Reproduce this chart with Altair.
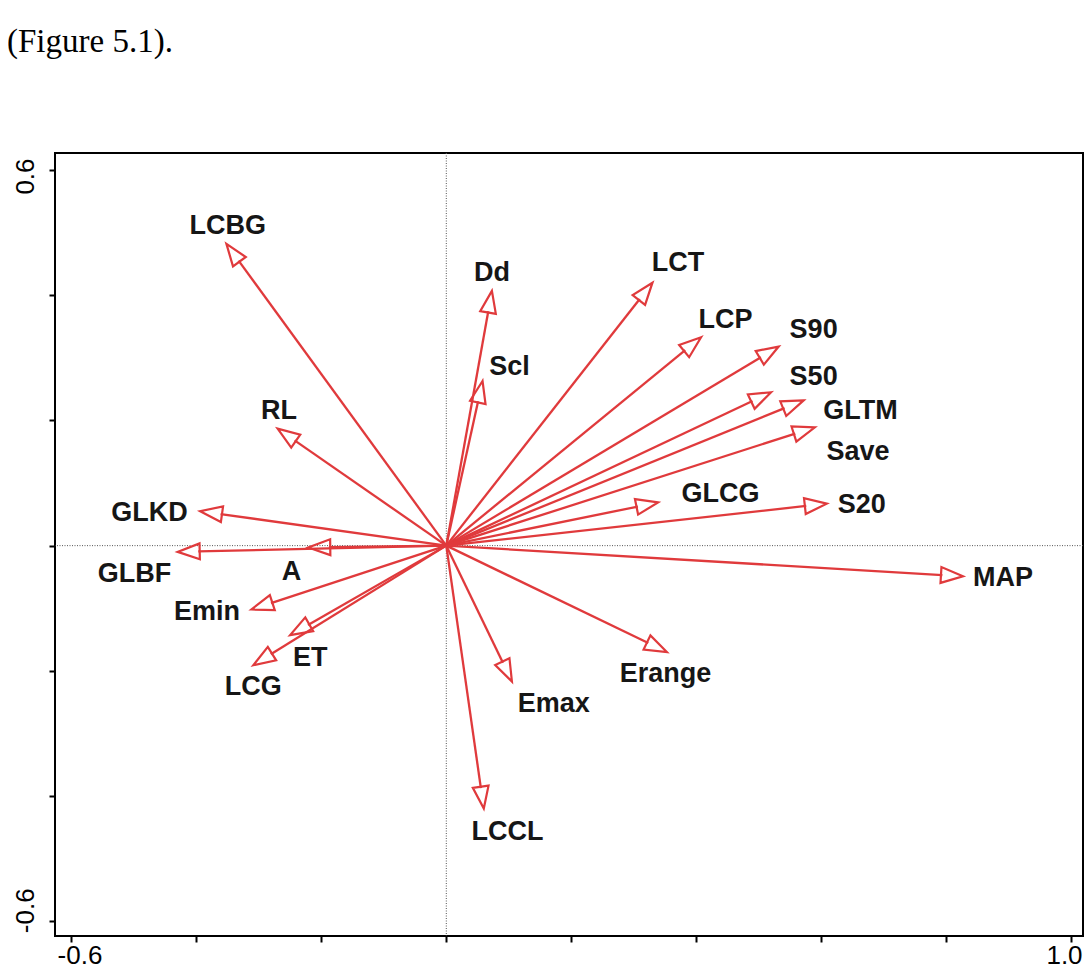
import altair as alt
import pandas as pd

# ---- data (ordination biplot: variable loadings) ----
names = ["LCBG", "RL", "GLKD", "GLBF", "A", "Dd", "Scl", "LCT", "LCP", "S90",
         "S50", "GLTM", "Save", "GLCG", "S20", "MAP", "Emin", "ET", "LCG",
         "Emax", "Erange", "LCCL"]
axis1 = [-0.352, -0.270, -0.394, -0.430, -0.221, 0.073, 0.058, 0.330, 0.408, 0.532,
         0.520, 0.572, 0.590, 0.339, 0.609, 0.827, -0.312, -0.250, -0.309,
         0.105, 0.353, 0.060]
axis2 = [0.482, 0.187, 0.055, -0.010, -0.003, 0.407, 0.263, 0.420, 0.333, 0.318,
         0.245, 0.232, 0.189, 0.069, 0.067, -0.049, -0.102, -0.143, -0.191,
         -0.217, -0.170, -0.420]
# label anchor positions (data units)
label_x = [-0.350, -0.268, -0.475, -0.499, -0.248, 0.073, 0.101, 0.371, 0.447, 0.588,
           0.588, 0.663, 0.659, 0.439, 0.665, 0.891, -0.383, -0.218, -0.309,
           0.172, 0.351, 0.098]
label_y = [0.514, 0.219, 0.055, -0.042, -0.039, 0.439, 0.289, 0.454, 0.363, 0.348,
           0.273, 0.218, 0.152, 0.085, 0.068, -0.049, -0.103, -0.176, -0.223,
           -0.249, -0.202, -0.454]

x_ticks = [-0.6, -0.4, -0.2, 0.0, 0.2, 0.4, 0.6, 0.8, 1.0]
x_tick_labels = {-0.6: "-0.6", 1.0: "1.0"}
y_ticks = [-0.6, -0.4, -0.2, 0.0, 0.2, 0.4, 0.6]
y_tick_labels = {-0.6: "-0.6", 0.6: "0.6"}
x_domain = [-0.6264, 1.0192]
y_domain = [-0.6236, 0.6272]
caption = "(Figure 5.1)."

RED = "#E03A3C"
INK = "#161616"
HEAD = 0.033  # arrow head length in data units (line stops at its base)


def label_expr(mapping):
    parts = [f"abs(datum.value - ({v})) < 1e-6 ? '{t}'" for v, t in mapping.items()]
    return " : ".join(parts) + " : ''"


df = pd.DataFrame({"name": names, "x": axis1, "y": axis2, "lx": label_x, "ly": label_y})
zero = pd.DataFrame({"v": [0.0]})

xs = alt.Scale(domain=x_domain, nice=False, zero=False)
ys = alt.Scale(domain=y_domain, nice=False, zero=False)

xaxis = alt.Axis(values=x_ticks, labelExpr=label_expr(x_tick_labels), title="",
                 grid=False, domain=False, labelFlush=False,
                 tickSize=6, tickWidth=2, tickColor="black",
                 labelFont="Liberation Sans", labelFontSize=26, labelColor="black",
                 labelPadding=0,
                 labelOffset={"condition": {"test": "datum.value < 0", "value": 8}, "value": -7})
yaxis = alt.Axis(values=y_ticks, labelExpr=label_expr(y_tick_labels), title="",
                 grid=False, domain=False, labelFlush=False,
                 tickSize=6, tickWidth=2, tickColor="black",
                 labelFont="Liberation Sans", labelFontSize=26, labelColor="black",
                 labelAngle=270, labelAlign="center", labelBaseline="alphabetic",
                 labelPadding=16,
                 labelOffset={"condition": {"test": "datum.value < 0", "value": -11}, "value": 6})


def X(f):
    return alt.X(f, type="quantitative", scale=xs, axis=xaxis)


def Y(f):
    return alt.Y(f, type="quantitative", scale=ys, axis=yaxis)


zero_v = alt.Chart(zero).mark_rule(color="#555", strokeWidth=1, strokeDash=[1, 1.5]).encode(x=X("v"))
zero_h = alt.Chart(zero).mark_rule(color="#555", strokeWidth=1, strokeDash=[1, 1.5]).encode(y=Y("v"))

base = alt.Chart(df).transform_calculate(
    len="sqrt(datum.x*datum.x + datum.y*datum.y)",
    x0="0",
    y0="0",
    ang="(atan2(datum.x, datum.y) * 180 / PI + 360) % 360",
).transform_calculate(
    xe=f"datum.x * (1 - {HEAD} / datum.len)",
    ye=f"datum.y * (1 - {HEAD} / datum.len)",
)

lines = base.mark_rule(color=RED, strokeWidth=2.3).encode(
    x=X("x0"), y=Y("y0"), x2="xe:Q", y2="ye:Q"
)

heads = base.mark_point(
    shape="M0,0L-0.72,2L0.72,2Z", size=484, filled=False,
    stroke=RED, strokeWidth=2.2, opacity=1,
).encode(x=X("x"), y=Y("y"), angle=alt.Angle("ang:Q", scale=None))

labels = alt.Chart(df).mark_text(
    font="Liberation Sans", fontSize=27, fontWeight="bold", color=INK,
    align="center", baseline="middle", dy=2,
).encode(x=X("lx"), y=Y("ly"), text="name:N")

chart = alt.layer(zero_v, zero_h, lines, heads, labels).properties(
    width=1028,
    height=783,
    title=alt.TitleParams(
        text=caption, anchor="start", frame="group", font="Liberation Serif",
        fontSize=33, fontWeight="normal", color="black", dx=-48, offset=68,
        baseline="alphabetic",
    ),
    autosize=alt.AutoSizeParams(type="none"),
    padding={"left": 47, "top": 145, "right": 1, "bottom": 35},
).configure_view(stroke="black", strokeWidth=2)

chart.save("out.html", embed_options={"renderer": "svg", "actions": False})
